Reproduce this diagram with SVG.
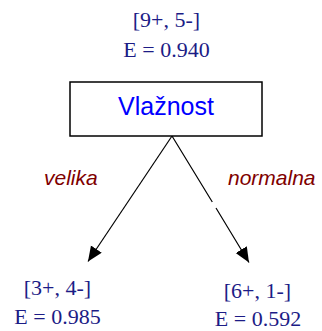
<svg xmlns="http://www.w3.org/2000/svg" width="322" height="331" viewBox="0 0 322 331">
<style>
.cnt{font-family:"Liberation Serif","Times New Roman",serif;font-size:22px;fill:#1c1c86;text-anchor:middle}
.attr{font-family:"Liberation Sans",Arial,sans-serif;font-size:25px;fill:#0000ff;text-anchor:middle}
.lbl{font-family:"Liberation Sans",Arial,sans-serif;font-size:21px;font-style:italic;fill:#800000}
.box{fill:#ffffff;stroke:#000000;stroke-width:1.5}
.edge{fill:none;stroke:#000000;stroke-width:1.2}
</style>
<defs>
<marker id="arr" markerUnits="userSpaceOnUse" markerWidth="16" markerHeight="14" refX="15" refY="6.5" orient="auto">
<path d="M0,0 L15,6.5 L0,13 z" fill="#000000"/>
</marker>
</defs>
<rect width="322" height="331" fill="#ffffff"/>
<g id="connectors">
<path class="edge" d="M172,136 L88,261.5" marker-end="url(#arr)"/>
<path class="edge" d="M172,136 L212.3,202 M216,208 L249,262.5" marker-end="url(#arr)"/>
</g>
<g id="root-stats">
<text class="cnt" x="166.5" y="27">[9+, 5-]</text>
<text class="cnt" x="166.5" y="57">E = 0.940</text>
</g>
<g id="root">
<rect class="box" x="70" y="82" width="192" height="54"/>
<text class="attr" x="166" y="115">Vlažnost</text>
</g>
<g id="edge-labels">
<text class="lbl" x="44" y="185">velika</text>
<text class="lbl" x="228" y="185">normalna</text>
</g>
<g id="left-node">
<text class="cnt" x="57.5" y="295">[3+, 4-]</text>
<text class="cnt" x="57.5" y="324">E = 0.985</text>
</g>
<g id="right-node">
<text class="cnt" x="257.5" y="298">[6+, 1-]</text>
<text class="cnt" x="258" y="326">E = 0.592</text>
</g>
</svg>
